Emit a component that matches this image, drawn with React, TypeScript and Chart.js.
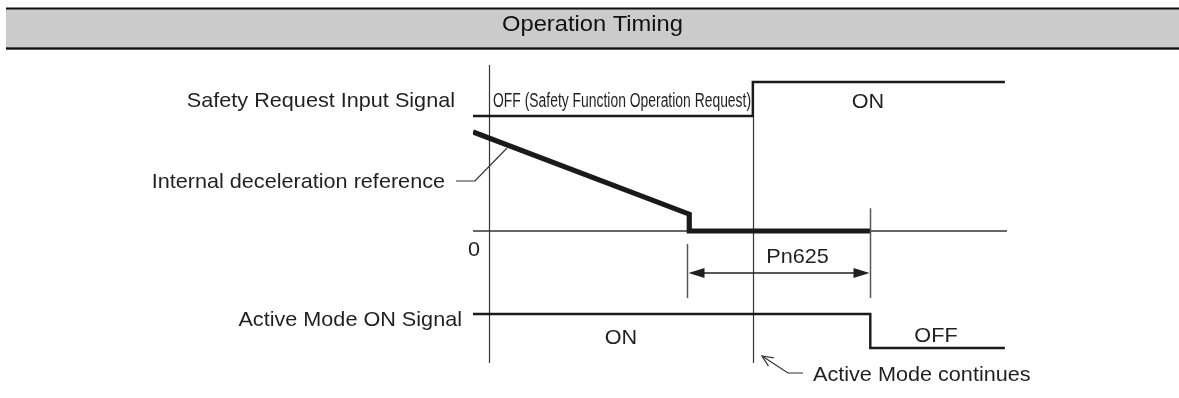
import { useEffect, useRef } from "react";
import { Chart, registerables } from "chart.js";

Chart.register(...registerables);

const W = 1179;
const H = 398;

// ---- data (time in arbitrary units across the drawing) ----
const timeExtent = [0, 100];
const requestTimes = [0, 52.4, 52.4, 99.6];
const requestLevels = [0, 0, 1, 1]; // 0 = OFF, 1 = ON
const referenceTimes = [0, 40.5, 40.5, 74.4];
const referenceValues = [100, 17, 0, 0]; // internal deceleration reference, %
const zeroTimes = [0, 100];
const zeroValues = [0, 0];
const activeTimes = [0, 74.4, 74.4, 99.6];
const activeLevels = [1, 1, 0, 0]; // 1 = ON, 0 = OFF
const guideTimes = [3.0, 52.4];
const guideTopLevels = [1.5, 1]; // request-lane units
const guideBottomLevel = -0.44; // active-lane units
const pn625Times = [40.5, 74.4];

const titleText = "Operation Timing";
const laneLabels = [
  "Safety Request Input Signal",
  "Internal deceleration reference",
  "Active Mode ON Signal",
];
const stateLabels = ["OFF (Safety Function Operation Request)", "ON", "ON", "OFF"];
const zeroLabel = "0";
const spanLabel = "Pn625";
const noteLabel = "Active Mode continues";

// ---- layout ----
const AREA = { left: 473, right: 1007, top: 60, bottom: 380 };
function axisRange(a: number, pa: number, b: number, pb: number) {
  const s = (pa - pb) / (b - a);
  return { min: a - (AREA.bottom - pa) / s, max: a + (pa - AREA.top) / s };
}
const reqRange = axisRange(0, 116, 1, 82);
const refRange = axisRange(0, 231, 100, 132);
const actRange = axisRange(0, 348, 1, 314);

const INK = "#231f20";
const FONT = '"Liberation Sans", Arial, Helvetica, sans-serif';
const BASE = 21;
const HS = 1.03;

function drawText(
  ctx: CanvasRenderingContext2D,
  text: string,
  x: number,
  y: number,
  align: CanvasTextAlign,
  size: number,
  opts: { width?: number; hscale?: number; color?: string } = {}
) {
  ctx.save();
  ctx.font = `${size}px ${FONT}`;
  const w = ctx.measureText(text).width;
  const sx = opts.width ? opts.width / w : opts.hscale ?? HS;
  ctx.translate(x, y);
  ctx.scale(sx, 1);
  ctx.textAlign = align;
  ctx.textBaseline = "alphabetic";
  ctx.fillStyle = opts.color ?? INK;
  ctx.fillText(text, 0, 0);
  ctx.restore();
}

function line(ctx: CanvasRenderingContext2D, pts: number[][], width: number, color: string) {
  ctx.save();
  ctx.beginPath();
  ctx.moveTo(pts[0][0], pts[0][1]);
  for (let i = 1; i < pts.length; i++) ctx.lineTo(pts[i][0], pts[i][1]);
  ctx.lineWidth = width;
  ctx.strokeStyle = color;
  ctx.lineCap = "butt";
  ctx.lineJoin = "miter";
  ctx.stroke();
  ctx.restore();
}

function filledArrow(ctx: CanvasRenderingContext2D, tipX: number, tipY: number, dir: number) {
  const len = 16;
  const half = 5;
  ctx.save();
  ctx.beginPath();
  ctx.moveTo(tipX, tipY);
  ctx.lineTo(tipX - dir * len, tipY - half);
  ctx.lineTo(tipX - dir * len, tipY + half);
  ctx.closePath();
  ctx.fillStyle = INK;
  ctx.fill();
  ctx.restore();
}

function openArrow(ctx: CanvasRenderingContext2D, tip: number[], from: number[]) {
  const ang = Math.atan2(from[1] - tip[1], from[0] - tip[0]);
  const len = 12;
  const spread = 0.42;
  const a = [tip[0] + len * Math.cos(ang - spread), tip[1] + len * Math.sin(ang - spread)];
  const b = [tip[0] + len * Math.cos(ang + spread), tip[1] + len * Math.sin(ang + spread)];
  line(ctx, [a, tip, b], 1.2, "#333");
}

const diagramPlugin = {
  id: "timingDiagram",
  beforeDraw(chart: any) {
    const ctx: CanvasRenderingContext2D = chart.ctx;
    ctx.save();
    ctx.fillStyle = "#ffffff";
    ctx.fillRect(0, 0, W, H);
    ctx.fillStyle = "#cbcbcb";
    ctx.fillRect(6, 9, W - 6, 38.5);
    ctx.fillStyle = "#111111";
    ctx.fillRect(6, 7.5, W - 6, 2);
    ctx.fillRect(6, 47.3, W - 6, 2.4);
    ctx.restore();
    drawText(ctx, titleText, 592.5, 31, "center", 21.5, { width: 181, color: "#111" });
  },
  beforeDatasetsDraw(chart: any) {
    const ctx: CanvasRenderingContext2D = chart.ctx;
    const x = chart.scales.x;
    const yReq = chart.scales.yReq;
    const yAct = chart.scales.yAct;
    guideTimes.forEach((t, i) => {
      const px = Math.round(x.getPixelForValue(t)) + 0.5;
      line(
        ctx,
        [
          [px, yReq.getPixelForValue(guideTopLevels[i])],
          [px, yAct.getPixelForValue(guideBottomLevel)],
        ],
        1.2,
        "#333"
      );
    });
  },
  afterDatasetsDraw(chart: any) {
    const ctx: CanvasRenderingContext2D = chart.ctx;
    const x = chart.scales.x;
    const yReq = chart.scales.yReq;
    const yRef = chart.scales.yRef;
    const yAct = chart.scales.yAct;
    const X = (t: number) => x.getPixelForValue(t);

    // lane labels
    drawText(ctx, laneLabels[0], X(-3.37), yReq.getPixelForValue(0.265), "right", BASE);
    drawText(ctx, laneLabels[1], X(-5.24), yRef.getPixelForValue(43.4), "right", BASE);
    drawText(ctx, laneLabels[2], X(-2.06), yAct.getPixelForValue(0.647), "right", BASE);

    // state labels
    drawText(ctx, stateLabels[0], X(3.75), yReq.getPixelForValue(0.265), "left", 19.5, { width: 258 });
    drawText(ctx, stateLabels[1], X(73.97), yReq.getPixelForValue(0.235), "center", BASE);
    drawText(ctx, stateLabels[2], X(27.7), yAct.getPixelForValue(0.118), "center", BASE);
    drawText(ctx, stateLabels[3], X(86.7), yAct.getPixelForValue(0.176), "center", BASE);

    // zero label
    drawText(ctx, zeroLabel, X(0.19), yRef.getPixelForValue(-25.3), "center", BASE);

    // deceleration reference leader
    line(
      ctx,
      [
        [X(-3.18), yRef.getPixelForValue(50.5)],
        [X(0.37), yRef.getPixelForValue(50.5)],
        [X(6.37), yRef.getPixelForValue(83.8)],
      ],
      1.2,
      "#333"
    );

    // Pn625 dimension
    const xl = Math.round(X(pn625Times[0])) - 1.5;
    const xr = Math.round(X(pn625Times[1])) + 0.5;
    line(ctx, [[xl, yRef.getPixelForValue(-13)], [xl, yRef.getPixelForValue(-67.7)]], 1.5, "#555");
    line(ctx, [[xr, yRef.getPixelForValue(23)], [xr, yRef.getPixelForValue(-67.7)]], 1.5, "#555");
    const ay = yRef.getPixelForValue(-42.4);
    line(ctx, [[xl + 10, ay], [xr - 10, ay]], 1.5, INK);
    filledArrow(ctx, xl + 1, ay, -1);
    filledArrow(ctx, xr - 1, ay, 1);
    drawText(ctx, spanLabel, X(60.77), yRef.getPixelForValue(-32.3), "center", BASE);

    // Active Mode continues note
    const tip = [X(54.12), yAct.getPixelForValue(-0.235)];
    const elbow = [X(58.99), yAct.getPixelForValue(-0.735)];
    const end = [X(61.8), yAct.getPixelForValue(-0.735)];
    line(ctx, [tip, elbow, end], 1.2, "#333");
    openArrow(ctx, tip, elbow);
    drawText(ctx, noteLabel, X(63.67), yAct.getPixelForValue(-0.97), "left", BASE);
  },
};

function series(xs: number[], ys: number[], axis: string, width: number, color: string, order: number) {
  return {
    data: xs.map((v, i) => ({ x: v, y: ys[i] })),
    yAxisID: axis,
    showLine: true,
    borderColor: color,
    backgroundColor: color,
    borderWidth: width,
    pointRadius: 0,
    pointHoverRadius: 0,
    fill: false,
    tension: 0,
    borderCapStyle: "butt",
    borderJoinStyle: "miter",
    order,
  };
}

export default function App() {
  const ref = useRef<HTMLCanvasElement | null>(null);
  useEffect(() => {
    if (!ref.current) return;
    const hidden = { display: false, grid: { display: false } };
    const chart = new Chart(ref.current, {
      type: "scatter",
      data: {
        datasets: [
          series(referenceTimes, referenceValues, "yRef", 5.2, "#1a1a1a", 0),
          series(requestTimes, requestLevels, "yReq", 2.4, "#1a1a1a", 1),
          series(activeTimes, activeLevels, "yAct", 2.4, "#1a1a1a", 2),
          series(zeroTimes, zeroValues, "yRef", 1.5, "#333333", 3),
        ] as any,
      },
      options: {
        responsive: false,
        animation: false,
        events: [],
        layout: {
          padding: {
            left: AREA.left,
            right: W - AREA.right,
            top: AREA.top,
            bottom: H - AREA.bottom,
          },
        },
        plugins: { legend: { display: false }, tooltip: { enabled: false }, title: { display: false } },
        scales: {
          x: { type: "linear", min: timeExtent[0], max: timeExtent[1], ...hidden },
          yReq: { type: "linear", position: "left", min: reqRange.min, max: reqRange.max, ...hidden },
          yRef: { type: "linear", position: "left", min: refRange.min, max: refRange.max, ...hidden },
          yAct: { type: "linear", position: "left", min: actRange.min, max: actRange.max, ...hidden },
        },
      } as any,
      plugins: [diagramPlugin],
    });
    return () => chart.destroy();
  }, []);
  return (
    <div style={{ position: "fixed", left: 0, top: 0, width: W, height: H, background: "#fff" }}>
      <canvas ref={ref} width={W} height={H} style={{ display: "block", width: W, height: H }} />
    </div>
  );
}
